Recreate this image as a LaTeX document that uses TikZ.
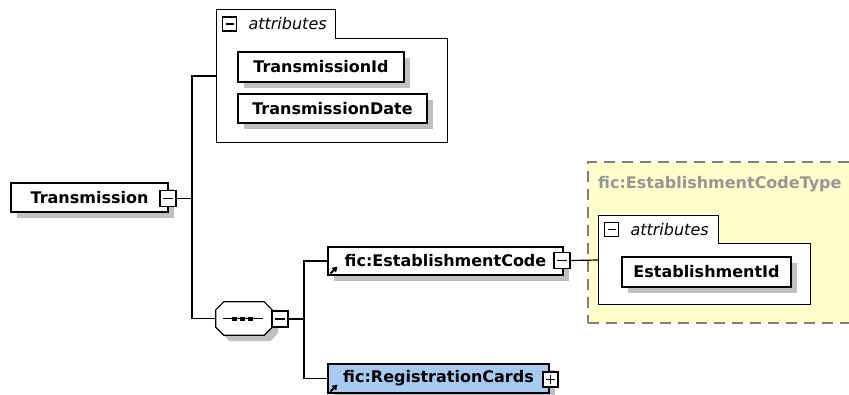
\documentclass[tikz,border=0pt]{standalone}
\usepackage{fontspec}
\setmainfont{DejaVu Sans}
\usetikzlibrary{shadows,positioning,arrows.meta}
\definecolor{xsdshadow}{RGB}{192,192,192}
\definecolor{xsdyellow}{RGB}{255,255,204}
\definecolor{xsdblue}{RGB}{166,202,240}
\definecolor{xsdgray}{RGB}{150,150,150}
\tikzset{
  conn/.style={line width=1.2pt},
  elem/.style={draw, line width=1.2pt, fill=white, inner sep=0pt,
    font=\fontsize{16}{18}\selectfont\bfseries,
    drop shadow={shadow xshift=6pt, shadow yshift=-6pt, fill=xsdshadow, opacity=1}},
  refelem/.style={elem, fill=xsdblue},
  grp/.style={draw, line width=1.2pt, fill=white},
  attrlabel/.style={inner sep=0pt, font=\fontsize{16}{18}\selectfont\itshape},
  typebox/.style={draw=gray, dash pattern=on 11pt off 7pt, line width=1.2pt, fill=xsdyellow},
  typelabel/.style={inner sep=0pt, text=xsdgray, font=\fontsize{16}{18}\selectfont\bfseries},
  boxbase/.style={draw, fill=white, line width=1.1pt, minimum size=16pt, inner sep=0pt},
  minusbox/.style={boxbase,
    path picture={\draw[line width=1.1pt] ([xshift=3pt]path picture bounding box.west) -- ([xshift=-3pt]path picture bounding box.east);}},
  plusbox/.style={boxbase,
    path picture={\draw[line width=1.1pt] ([xshift=3pt]path picture bounding box.west) -- ([xshift=-3pt]path picture bounding box.east)
      ([yshift=3pt]path picture bounding box.south) -- ([yshift=-3pt]path picture bounding box.north);}},
  seqshape/.style={line width=1.2pt},
  refarrow/.style={line width=2pt, -{Triangle[length=5pt,width=6pt]}}
}

\begin{document}
\begin{tikzpicture}[x=1pt, y=-1pt]
    \path[use as bounding box] (0,0) rectangle (849,394);

    % root element
    \node[elem, minimum width=157pt, minimum height=29pt] (trm) at (89.5,197.5) {Transmission};
    \node[minusbox] (trmMinus) at (168,198.5) {};
    \coordinate (j1) at (192,198.5);

    % attributes of Transmission
    \node[minimum width=230pt, minimum height=132pt, inner sep=0pt] (attrA) at (332,76) {};
    \node[minimum width=118pt, minimum height=28pt, inner sep=0pt, anchor=north west] (tabA) at (attrA.north west) {};
    \draw[grp] (attrA.south west) -- (tabA.north west) -- (tabA.north east) -- (tabA.south east)
        -- (tabA.south east -| attrA.east) -- (attrA.south east) -- cycle;
    \node[minusbox, minimum size=14pt] (tabAMinus) at ([xshift=13pt]tabA.west) {};
    \node[attrlabel, right=11pt of tabAMinus] (tabAText) {attributes};
    \node[elem, minimum width=166pt, minimum height=30pt] (tId) at (321,67) {TransmissionId};
    \node[elem, minimum width=189pt, minimum height=29pt] (tDate) at (332.5,108.5) {TransmissionDate};

    % sequence
    \node[minimum width=56pt, minimum height=33pt, inner sep=0pt] (seq) at (244,318.5) {};
    \fill[xsdshadow, transform canvas={shift={(6pt,-6pt)}}]
        ([xshift=8pt]seq.north west) -- ([xshift=-8pt]seq.north east) -- ([yshift=-8pt]seq.north east)
        -- ([yshift=8pt]seq.south east) -- ([xshift=-8pt]seq.south east) -- ([xshift=8pt]seq.south west)
        -- ([yshift=8pt]seq.south west) -- ([yshift=-8pt]seq.north west) -- cycle;
    \draw[seqshape, fill=white]
        ([xshift=8pt]seq.north west) -- ([xshift=-8pt]seq.north east) -- ([yshift=-8pt]seq.north east)
        -- ([yshift=8pt]seq.south east) -- ([xshift=-8pt]seq.south east) -- ([xshift=8pt]seq.south west)
        -- ([yshift=8pt]seq.south west) -- ([yshift=-8pt]seq.north west) -- cycle;
    \draw[line width=1.2pt] ([xshift=7pt]seq.west) -- ([xshift=-9pt]seq.east);
    \foreach \dx in {-12,-4,4}
        \fill ([xshift=\dx pt, yshift=-2pt]seq.center) rectangle ++(5pt,4pt);
    \node[minusbox] (seqMinus) at (280,319) {};
    \coordinate (j2) at (304,319);

    % children of the sequence
    \node[elem, minimum width=235pt, minimum height=28pt] (estCode) at (445.5,261) {fic:EstablishmentCode};
    \draw[refarrow] ([shift={(3pt,2pt)}]estCode.south west) -- ++(7pt,7pt);
    \node[minusbox] (estMinus) at (562,260.5) {};
    \node[refelem, minimum width=221pt, minimum height=29pt] (regCards) at (438.5,378.5) {fic:RegistrationCards};
    \draw[refarrow] ([shift={(3pt,2pt)}]regCards.south west) -- ++(7pt,7pt);
    \node[plusbox, minimum size=15pt] (regPlus) at (550.5,379.5) {};

    % type of EstablishmentCode
    \node[typebox, minimum width=266pt, minimum height=161pt] (ecType) at (721,242.5) {};
    \node[typelabel, anchor=west] (ecTypeLbl) at (598,184) {fic:EstablishmentCodeType};
    \node[minimum width=211pt, minimum height=88pt, inner sep=0pt] (attrB) at (704.5,260) {};
    \node[minimum width=119pt, minimum height=27pt, inner sep=0pt, anchor=north west] (tabB) at (attrB.north west) {};
    \draw[grp] (attrB.south west) -- (tabB.north west) -- (tabB.north east) -- (tabB.south east)
        -- (tabB.south east -| attrB.east) -- (attrB.south east) -- cycle;
    \node[minusbox, minimum size=14pt] (tabBMinus) at ([xshift=13pt]tabB.west) {};
    \node[attrlabel, right=11pt of tabBMinus] (tabBText) {attributes};
    \node[elem, minimum width=169pt, minimum height=30pt] (estId) at (706.5,272) {EstablishmentId};

    % connectors
    \draw[conn] (trmMinus.east) -- (j1);
    \draw[conn] (attrA.west) -| (j1) |- (seq.west);
    \draw[conn] (seqMinus.east) -- (j2);
    \draw[conn] (estCode.west) -| (j2) |- (regCards.west);
    \draw[conn] (estMinus.east) -- (attrB.west);
\end{tikzpicture}
\end{document}
